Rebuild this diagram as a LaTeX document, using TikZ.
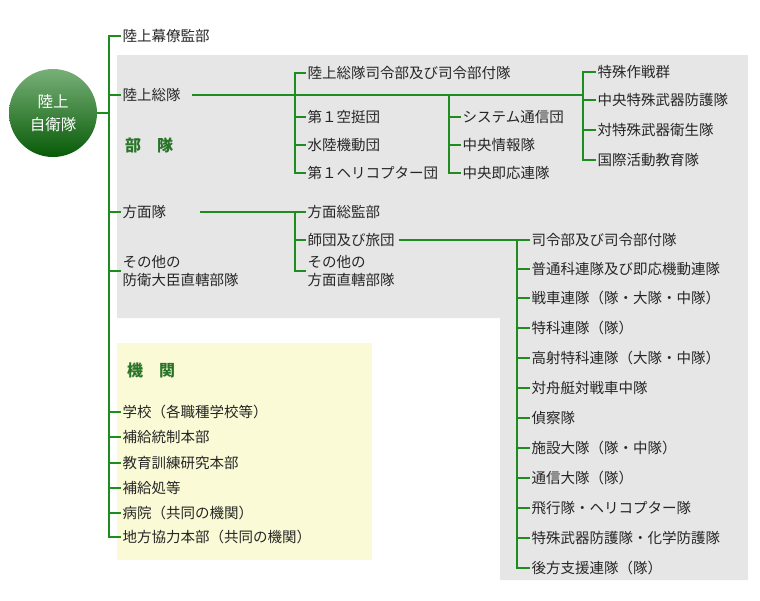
\documentclass[tikz,border=0pt]{standalone}
\usepackage{fontspec}
\newfontfamily\jpfont{Noto Sans CJK JP}
\usetikzlibrary{positioning}

\definecolor{linkgreen}{HTML}{1E8C1E}
\definecolor{headgreen}{HTML}{2A742A}
\definecolor{rootTop}{HTML}{78B078}
\definecolor{rootMid}{HTML}{1F701F}
\definecolor{rootBottom}{HTML}{075A07}
\definecolor{unitbg}{HTML}{E6E6E6}
\definecolor{organbg}{HTML}{FAFAD6}

\begin{document}
\begin{tikzpicture}[
x=1pt, y=-1pt,
item/.style={
    anchor=west,
    inner sep=1.5pt,
    align=left,
    text=black!85,
    font=\jpfont\fontsize{14.5}{18.5}\selectfont
},
head/.style={
    anchor=west,
    inner sep=0pt,
    text=headgreen,
    font=\jpfont\bfseries\fontsize{16}{18}\selectfont
},
root/.style={
    circle,
    minimum size=88pt,
    inner sep=0pt,
    align=center,
    top color=rootTop,
    middle color=rootMid,
    bottom color=rootBottom,
    text=white,
    font=\jpfont\fontsize{15.5}{23}\selectfont
},
link/.style={draw=linkgreen, line width=2pt}
]
\useasboundingbox (0,0) rectangle (760,600);

% Background areas
\fill[unitbg] (117,55) -- (748,55) -- (748,580) -- (500,580) -- (500,318) -- (117,318) -- cycle;
\fill[organbg] (117,343) rectangle (372,560);

% Root
\node[root] (root) at (53,113) {陸上\\自衛隊};

% Headings
\node[head] (units) at (125,145) {部　隊};
\node[head] (organs) at (127,370) {機　関};

% First level
\node[item] (gso) at (121,36) {陸上幕僚監部};
\node[item] (gsc) at (121,95) {陸上総隊};
\node[item] (army) at (121,212) {方面隊};
\node[item] (mod) at (121,271) {その他の\\防衛大臣直轄部隊};
\node[item] (school) at (121,412) {学校（各職種学校等）};
\node[item] (supcmd) at (121,437) {補給統制本部};
\node[item] (trdc) at (121,463) {教育訓練研究本部};
\node[item] (depot) at (121,488) {補給処等};
\node[item] (hosp) at (121,513) {病院（共同の機関）};
\node[item] (pco) at (121,537) {地方協力本部（共同の機関）};

% Ground Component Command
\node[item] (gschq) at (306,73) {陸上総隊司令部及び司令部付隊};
\node[item] (abn) at (306,117) {第１空挺団};
\node[item] (ardb) at (306,145) {水陸機動団};
\node[item] (heli) at (306,173) {第１ヘリコプター団};
\node[item] (sys) at (461,117) {システム通信団};
\node[item] (intel) at (461,145) {中央情報隊};
\node[item] (crr) at (461,173) {中央即応連隊};
\node[item] (sfg) at (596,72) {特殊作戦群};
\node[item] (nbc) at (596,100) {中央特殊武器防護隊};
\node[item] (med) at (596,130) {対特殊武器衛生隊};
\node[item] (iptc) at (596,160) {国際活動教育隊};

% Armies
\node[item] (ahq) at (306,212) {方面総監部};
\node[item] (div) at (306,240) {師団及び旅団};
\node[item] (adu) at (306,271) {その他の\\方面直轄部隊};

% Divisions and brigades
\node[item] (dhq) at (530,240) {司令部及び司令部付隊};
\node[item] (inf) at (530,269) {普通科連隊及び即応機動連隊};
\node[item] (tank) at (530,298) {戦車連隊（隊・大隊・中隊）};
\node[item] (fa) at (530,328) {特科連隊（隊）};
\node[item] (ada) at (530,358) {高射特科連隊（大隊・中隊）};
\node[item] (atk) at (530,388) {対舟艇対戦車中隊};
\node[item] (recon) at (530,418) {偵察隊};
\node[item] (engr) at (530,448) {施設大隊（隊・中隊）};
\node[item] (sig) at (530,478) {通信大隊（隊）};
\node[item] (avn) at (530,508) {飛行隊・ヘリコプター隊};
\node[item] (cbrn) at (530,538) {特殊武器防護隊・化学防護隊};
\node[item] (log) at (530,568) {後方支援連隊（隊）};

% Bus points
\coordinate (trunk) at (109,113);
\coordinate (bus2) at (295,95);
\coordinate (bus3) at (449,95);
\coordinate (bus4) at (583,95);
\coordinate (bus5) at (295,212);
\coordinate (bus6) at (517,240);

% Trunk
\draw[link] (root.east) -- (trunk);
\draw[link] (trunk) |- (gso.west);
\draw[link] (trunk) |- (gsc.west);
\draw[link] (trunk) |- (army.west);
\draw[link] (trunk) |- (mod.west);
\draw[link] (trunk) |- (school.west);
\draw[link] (trunk) |- (supcmd.west);
\draw[link] (trunk) |- (trdc.west);
\draw[link] (trunk) |- (depot.west);
\draw[link] (trunk) |- (hosp.west);
\draw[link] (trunk) |- (pco.west);

% Ground Component Command links
\draw[link] ([xshift=10pt]gsc.east) -- (bus4);
\draw[link] (bus2) |- (gschq.west);
\draw[link] (bus2) |- (abn.west);
\draw[link] (bus2) |- (ardb.west);
\draw[link] (bus2) |- (heli.west);
\draw[link] (bus3) |- (sys.west);
\draw[link] (bus3) |- (intel.west);
\draw[link] (bus3) |- (crr.west);
\draw[link] (bus4) |- (sfg.west);
\draw[link] (bus4) |- (nbc.west);
\draw[link] (bus4) |- (med.west);
\draw[link] (bus4) |- (iptc.west);

% Army links
\draw[link] ([xshift=32pt]army.east) -- (ahq.west);
\draw[link] (bus5) |- (div.west);
\draw[link] (bus5) |- (adu.west);

% Division links
\draw[link] ([xshift=3pt]div.east) -- (dhq.west);
\draw[link] (bus6) |- (inf.west);
\draw[link] (bus6) |- (tank.west);
\draw[link] (bus6) |- (fa.west);
\draw[link] (bus6) |- (ada.west);
\draw[link] (bus6) |- (atk.west);
\draw[link] (bus6) |- (recon.west);
\draw[link] (bus6) |- (engr.west);
\draw[link] (bus6) |- (sig.west);
\draw[link] (bus6) |- (avn.west);
\draw[link] (bus6) |- (cbrn.west);
\draw[link] (bus6) |- (log.west);

\end{tikzpicture}
\end{document}
